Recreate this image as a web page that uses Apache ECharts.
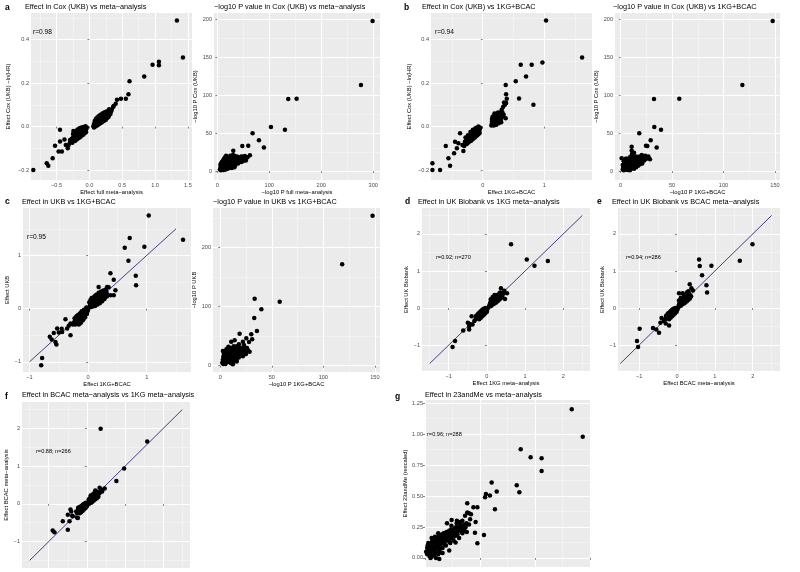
<!DOCTYPE html>
<html><head><meta charset="utf-8">
<script src="https://cdn.jsdelivr.net/npm/echarts@6/dist/echarts.min.js"></script>
<style>html,body{margin:0;padding:0;background:#fff}#c{width:800px;height:572px}</style>
</head><body><div id="c"></div>
<script>
// ---------------- data ----------------
const ptsA = [
 [0.06,0.002],[0.07,0.012],[0.08,0.004],[0.09,0.018],[0.1,0.01],[0.1,0.026],[0.11,0.02],[0.12,0.008],[0.12,0.032],[0.13,0.024],[0.14,0.016],[0.14,0.036],[0.15,0.028],[0.16,0.02],[0.16,0.04],[0.17,0.032],[0.18,0.024],[0.18,0.044],[0.19,0.036],[0.2,0.028],[0.2,0.048],[0.21,0.04],[0.22,0.032],[0.22,0.05],[0.23,0.044],[0.24,0.036],[0.25,0.052],[0.26,0.044],[0.27,0.056],[0.28,0.048],[0.29,0.06],[0.3,0.052],[0.31,0.064],[0.32,0.058],[0.33,0.07],
 [0.07,-0.004],[0.09,0.0],[0.11,0.004],[0.13,0.008],[0.15,0.012],[0.17,0.016],[0.19,0.02],[0.21,0.024],[0.23,0.028],[0.25,0.032],[0.27,0.04],[0.29,0.044],[0.08,0.026],[0.1,0.036],[0.12,0.042],[0.14,0.048],[0.16,0.052],[0.18,0.056],[0.2,0.06],[0.22,0.064],[0.24,0.066],[0.26,0.068],
 [0.34,0.077],[0.37,0.095],[0.40,0.105],[0.42,0.123],[0.48,0.128],[0.555,0.128],[0.595,0.149],[0.611,0.209],[0.835,0.231],[0.962,0.285],[1.059,0.298],[1.059,0.282],[1.333,0.488],[1.425,0.318],[0.265,0.069],[0.3,0.08],[0.36,0.09],
 [-0.04,-0.004],[-0.05,-0.012],[-0.06,-0.006],[-0.07,-0.016],[-0.08,-0.008],[-0.08,-0.022],[-0.09,-0.014],[-0.1,-0.024],[-0.1,-0.006],[-0.11,-0.018],[-0.12,-0.028],[-0.12,-0.012],[-0.13,-0.022],[-0.14,-0.032],[-0.14,-0.016],[-0.15,-0.026],[-0.16,-0.036],[-0.16,-0.02],[-0.17,-0.03],[-0.18,-0.04],[-0.19,-0.034],[-0.2,-0.044],[-0.21,-0.038],[-0.22,-0.05],[-0.23,-0.044],[-0.24,-0.056],[-0.25,-0.05],[-0.26,-0.062],[-0.27,-0.056],[-0.28,-0.07],[-0.3,-0.076],[-0.32,-0.086],[-0.2,-0.06],[-0.25,-0.034],[-0.244,-0.02],[-0.295,-0.062],
 [-0.05,-0.025],[-0.07,-0.03],[-0.09,-0.036],[-0.11,-0.04],[-0.13,-0.046],[-0.15,-0.05],[-0.17,-0.054],[-0.19,-0.058],[-0.06,0.002],[-0.09,-0.002],[-0.12,-0.004],[-0.15,-0.008],[-0.18,-0.014],[-0.21,-0.02],[-0.22,-0.066],[-0.26,-0.075],
 [-0.448,-0.015],[-0.524,-0.088],[-0.448,-0.069],[-0.42,-0.115],[-0.47,-0.115],[-0.36,-0.085],[-0.56,-0.146],[-0.65,-0.169],[-0.626,-0.18],[-0.855,-0.2],[-0.38,-0.06],[-0.33,-0.1]
];
const ptsA2 = [
 [298.7,197.4],[276.3,113.2],[136.5,94.7],[152.6,95.2],[103.2,57.9],[130.1,54.4],[67.9,49.6],[80.1,40.4],[89.7,31.1],[59.6,33.3],[48.1,32.9],[30.8,26.8],[62.8,20.6],[46.8,18.9],[43.6,12.3],
 [5,2],[6,4],[7,1],[8,3],[8,6],[9,2],[10,5],[10,8],[11,3],[12,1.5],[12,6],[13,10],[14,4],[14,8],[15,2.5],[16,6],[16,12],[17,9],[18,4],[18,14],[19,7],[20,11],[20,3],[21,16],[22,8],[23,13],[24,5],[25,10],[26,15],[27,7],[28,18],[29,12],[30,9],[31,14],[33,11],[34,17],[35,8],[36,13],[38,16],[40,10],[42,14],[44,17],[46,12],[48,16],[50,14],[52,18],[54,15],[56,17],[25,20],[30,21],[38,19],[33,5],[10,12],[15,15],[53,19.7],
 [6,8],[7,10],[9,12],[11,14],[13,16],[15,18],[17,20],[19,18],[21,13],[23,10],[25,7],[27,12],[29,15],[31,18],[33,20],[35,15],[37,11],[39,13],[41,18],[43,12],[45,15],[47,19],[49,13],[51,16],[55,14],[58,18],[20,6],[16,2],[22,4],[28,4],[12,4],[9,7]
];
const ptsB = [
 [1.028,0.488],[1.613,0.318],[0.969,0.295],[0.795,0.285],[0.617,0.285],[0.703,0.231],[0.536,0.209],[0.59,0.129],[0.823,0.1],[0.373,0.192],[0.379,0.149],[0.39,0.128],[0.346,0.111],[0.38,0.108],[0.373,0.038],[0.308,0.077],[0.33,0.09],[0.36,0.1],
 [0.14,0.005],[0.15,0.015],[0.16,0.025],[0.15,0.035],[0.17,0.01],[0.18,0.02],[0.18,0.035],[0.19,0.045],[0.2,0.015],[0.2,0.03],[0.21,0.04],[0.21,0.05],[0.22,0.02],[0.22,0.035],[0.23,0.045],[0.24,0.028],[0.24,0.055],[0.25,0.04],[0.26,0.03],[0.26,0.05],[0.27,0.06],[0.28,0.04],[0.29,0.05],[0.3,0.035],[0.3,0.06],[0.32,0.045],[0.32,0.065],[0.34,0.055],[0.19,0.06],[0.16,0.045],
 [0.15,0.025],[0.17,0.03],[0.17,0.045],[0.19,0.025],[0.21,0.025],[0.23,0.03],[0.25,0.025],[0.27,0.045],[0.29,0.065],[0.31,0.055],[0.28,0.055],[0.2,0.055],[0.23,0.06],[0.25,0.065],[0.18,0.005],[0.22,0.008],[0.26,0.015],[0.3,0.02],
 [-0.04,-0.005],[-0.05,-0.015],[-0.06,-0.008],[-0.07,-0.02],[-0.08,-0.01],[-0.09,-0.025],[-0.1,-0.015],[-0.11,-0.03],[-0.12,-0.02],[-0.13,-0.035],[-0.14,-0.025],[-0.15,-0.04],[-0.16,-0.03],[-0.17,-0.045],[-0.18,-0.035],[-0.19,-0.05],[-0.2,-0.04],[-0.21,-0.055],[-0.22,-0.045],[-0.23,-0.06],[-0.25,-0.055],[-0.27,-0.065],[-0.29,-0.07],[-0.12,-0.045],[-0.15,-0.055],[-0.2,-0.065],[-0.24,-0.075],[-0.08,-0.035],[-0.1,-0.005],[-0.06,-0.025],
 [-0.05,-0.03],[-0.07,-0.035],[-0.09,-0.04],[-0.11,-0.045],[-0.13,-0.05],[-0.17,-0.06],[-0.19,-0.065],[-0.22,-0.07],[-0.26,-0.08],[-0.07,0.0],[-0.12,-0.008],[-0.16,-0.015],[-0.2,-0.025],[-0.24,-0.04],[-0.28,-0.05],
 [-0.368,-0.031],[-0.6,-0.089],[-0.395,-0.077],[-0.42,-0.1],[-0.314,-0.112],[-0.465,-0.123],[-0.557,-0.146],[-0.53,-0.18],[-0.817,-0.169],[-0.817,-0.2],[-0.693,-0.2],[-0.33,-0.085],[-0.45,-0.07],[-0.3,-0.09]
];
const ptsB2 = [
 [147.8,197.4],[118.3,113.2],[32.4,94.7],[57,95.2],[32.7,57.9],[39.2,54.4],[18.1,49.6],[29.2,40.4],[35,31.1],[24.6,33.3],[25.9,32.9],[10.7,32],[10.7,26.8],[28.5,15.4],[22,18.9],[1,16.7],
 [2,2],[2.5,5],[3,8],[3,1],[3.5,11],[4,3],[4.5,6],[5,9],[5,13],[5.5,2],[6,5],[6,16],[6.5,8],[7,11],[7,1.5],[7.5,4],[8,14],[8,7],[8.5,10],[9,3],[9,18],[9.5,6],[10,12],[10,9],[10.5,15],[11,4],[11.5,20],[12,8],[12,13],[12.5,17],[13,6],[13.5,10],[14,15],[14.5,12],[15,19],[15.5,8],[16,14],[16.5,17],[17,11],[18,16],[18.5,19],[19,13],[20,17],[20.5,21],[21,15],[22,19],[23,17],[24,20],[26,18],[27,19],[11,22],[13,24],[4,15],
 [3,4],[4,6],[4,10],[5,5],[6,2],[6,12],[7,8],[8,4],[8,10],[9,13],[9,1],[10,3],[10,6],[11,8],[11,11],[12,5],[12,15],[13,12],[13,3],[14,9],[15,11],[15,5],[16,9],[17,13],[17,7],[18,11],[19,16],[19,9],[20,12],[21,10],[22,15],[23,14],[25,16],[2,8],[3,13],[5,16]
];
const ptsC = [
 [1.034,1.75],[1.619,1.294],[0.71,1.325],[0.625,1.144],[0.96,1.163],[0.688,0.9],[0.813,0.619],[0.818,0.438],[0.381,0.663],[0.4375,0.544],[0.381,0.25],[0.4375,0.25],[0.18,0.406],[0.324,0.406],[0.466,0.344],[0.35,0.4],[0.3,0.36],
 [0.03,0.06],[0.05,0.1],[0.06,0.05],[0.07,0.14],[0.08,0.09],[0.09,0.18],[0.1,0.12],[0.11,0.07],[0.12,0.16],[0.13,0.21],[0.14,0.11],[0.15,0.15],[0.16,0.2],[0.17,0.25],[0.18,0.14],[0.19,0.19],[0.2,0.23],[0.21,0.28],[0.22,0.17],[0.23,0.22],[0.24,0.26],[0.25,0.3],[0.26,0.2],[0.27,0.25],[0.28,0.29],[0.3,0.27],[0.31,0.32],[0.32,0.23],[0.04,0.16],[0.12,0.24],
 [0.05,0.03],[0.08,0.04],[0.12,0.05],[0.16,0.08],[0.2,0.1],[0.24,0.14],[0.28,0.18],[0.32,0.28],[0.02,0.12],[0.06,0.2],[0.1,0.22],[0.14,0.26],[0.18,0.3],[0.22,0.32],[0.26,0.34],[0.09,0.1],[0.13,0.12],[0.17,0.17],[0.21,0.2],[0.25,0.24],[0.29,0.22],
 [0,-0.01],[-0.01,-0.05],[-0.02,-0.02],[-0.03,-0.08],[-0.04,-0.04],[-0.05,-0.11],[-0.06,-0.06],[-0.07,-0.14],[-0.08,-0.09],[-0.09,-0.17],[-0.1,-0.12],[-0.11,-0.05],[-0.12,-0.2],[-0.13,-0.14],[-0.14,-0.09],[-0.15,-0.23],[-0.16,-0.17],[-0.17,-0.12],[-0.18,-0.26],[-0.19,-0.2],[-0.2,-0.15],[-0.21,-0.28],[-0.22,-0.22],[-0.24,-0.26],[-0.26,-0.3],[-0.08,-0.2],[-0.14,-0.28],
 [-0.02,-0.1],[-0.05,-0.16],[-0.09,-0.22],[-0.12,-0.26],[-0.16,-0.3],[-0.03,0.02],[-0.07,-0.02],[-0.11,-0.08],[-0.15,-0.11],[-0.19,-0.14],[-0.23,-0.18],[-0.06,-0.12],[-0.1,-0.16],[-0.14,-0.2],[-0.18,-0.22],[-0.22,-0.3],
 [-0.386,-0.2],[-0.3,-0.28],[-0.358,-0.375],[-0.3,-0.5],[-0.443,-0.4375],[-0.528,-0.375],[-0.585,-0.456],[-0.557,-0.625],[-0.54,-0.675],[-0.653,-0.53],[-0.62,-0.58],[-0.784,-0.925],[-0.8,-1.0625],[-0.5,-0.45],[-0.33,-0.32],[-0.45,-0.38]
];
const ptsC2 = [
 [147.8,254],[118.3,171.8],[33.4,113.6],[57.7,108.5],[39.9,95.5],[33,80.8],[35.6,58.8],[30.1,53.1],[18.8,54.2],[25.3,46.3],[22,40.7],[18.1,36.2],[10.7,40.7],[28.5,23.7],[25.3,23.7],[2.6,24.9],[12.3,2.3],[14,43],[31,45],[27.9,40],[20.4,27.7],
 [2,5],[2.5,10],[3,15],[3.5,20],[4,8],[4.5,13],[5,3],[5,18],[5.5,24],[6,10],[6.5,15],[7,6],[7,21],[7.5,12],[8,17],[8.5,27],[9,8],[9.5,14],[10,20],[10.5,4],[11,25],[11.5,11],[12,17],[12.5,30],[13,14],[13.5,22],[14,9],[14.5,19],[15,26],[15.5,12],[16,33],[16.5,22],[17,16],[18,28],[18.5,20],[19,24],[20,30],[21,18],[22,26],[23,35],[24,22],[26,30],[27,26],[16,7],[8,32],[6,28],
 [3,3],[4,12],[5,7],[6,20],[7,14],[8,9],[9,22],[10,12],[11,17],[12,6],[13,19],[14,27],[15,16],[16,10],[17,24],[18,14],[19,31],[20,21],[21,25],[22,16],[23,28],[24,31],[25,20],[4,25],[7,29],[10,30],[13,33],[12,22],[9,17],[5,11]
];
const ptsD = [
 [0.632,1.723],[1.044,1.3125],[1.246,1.143],[1.596,1.268],[0.368,0.536],[0.456,0.464],[0.526,0.402],[0.474,0.241],[0.42,0.38],[0.35,0.42],
 [0.06,0.06],[0.08,0.12],[0.1,0.08],[0.11,0.18],[0.12,0.1],[0.13,0.15],[0.14,0.22],[0.15,0.12],[0.16,0.18],[0.17,0.26],[0.18,0.14],[0.19,0.2],[0.2,0.28],[0.21,0.16],[0.22,0.23],[0.23,0.31],[0.24,0.19],[0.25,0.26],[0.26,0.34],[0.27,0.22],[0.28,0.29],[0.3,0.25],[0.31,0.33],[0.33,0.28],[0.35,0.36],[0.37,0.3],[0.39,0.4],[0.15,0.3],[0.1,0.24],
 [0.08,0.04],[0.12,0.06],[0.16,0.1],[0.2,0.12],[0.24,0.15],[0.28,0.18],[0.32,0.22],[0.36,0.26],[0.4,0.32],[0.1,0.16],[0.13,0.2],[0.17,0.22],[0.21,0.24],[0.25,0.3],[0.29,0.36],[0.33,0.4],[0.2,0.35],
 [0.02,-0.02],[0,-0.05],[-0.02,-0.01],[-0.03,-0.08],[-0.05,-0.04],[-0.06,-0.11],[-0.08,-0.07],[-0.09,-0.14],[-0.1,-0.03],[-0.11,-0.1],[-0.12,-0.17],[-0.13,-0.06],[-0.14,-0.13],[-0.15,-0.2],[-0.16,-0.09],[-0.17,-0.16],[-0.18,-0.23],[-0.19,-0.12],[-0.2,-0.19],[-0.21,-0.26],[-0.22,-0.15],[-0.24,-0.22],[-0.26,-0.28],[-0.28,-0.25],[-0.3,-0.31],
 [0,-0.1],[-0.04,-0.14],[-0.08,-0.18],[-0.12,-0.22],[-0.16,-0.26],[-0.2,-0.3],[-0.04,0.0],[-0.08,-0.02],[-0.12,-0.06],[-0.16,-0.1],[-0.2,-0.14],[-0.24,-0.17],[-0.28,-0.21],
 [-0.4,-0.22],[-0.377,-0.446],[-0.465,-0.49],[-0.465,-0.58],[-0.62,-0.61],[-0.833,-0.89],[-0.9,-1.05],[-0.33,-0.35],[-0.45,-0.43],[-0.5,-0.4]
];
const ptsE = [
 [1.993,1.723],[1.658,1.277],[0.582,1.3125],[0.6,1.134],[0.908,1.143],[0.661,0.884],[0.776,0.616],[0.794,0.42],[0.335,0.643],[0.38,0.536],[0.053,0.402],[0.265,0.429],[0.15,0.4],[0.42,0.47],[0.3,0.45],
 [0.04,0.06],[0.06,0.12],[0.08,0.08],[0.09,0.18],[0.1,0.1],[0.11,0.15],[0.12,0.22],[0.13,0.12],[0.14,0.18],[0.15,0.26],[0.16,0.14],[0.17,0.2],[0.18,0.28],[0.19,0.16],[0.2,0.23],[0.21,0.31],[0.22,0.19],[0.23,0.26],[0.24,0.34],[0.25,0.22],[0.26,0.29],[0.28,0.25],[0.29,0.33],[0.31,0.28],[0.33,0.36],[0.35,0.3],[0.1,0.28],[0.05,0.2],
 [0.06,0.04],[0.1,0.06],[0.14,0.1],[0.18,0.12],[0.22,0.15],[0.26,0.18],[0.3,0.22],[0.34,0.26],[0.37,0.32],[0.08,0.16],[0.11,0.2],[0.15,0.22],[0.19,0.24],[0.23,0.3],[0.27,0.36],[0.31,0.4],[0.18,0.35],
 [0.02,-0.02],[0,-0.05],[-0.02,-0.01],[-0.04,-0.08],[-0.05,-0.04],[-0.07,-0.11],[-0.08,-0.07],[-0.1,-0.14],[-0.11,-0.03],[-0.12,-0.1],[-0.13,-0.17],[-0.14,-0.06],[-0.15,-0.13],[-0.16,-0.2],[-0.17,-0.09],[-0.18,-0.16],[-0.19,-0.23],[-0.2,-0.12],[-0.21,-0.19],[-0.22,-0.26],[-0.24,-0.15],[-0.25,-0.22],[-0.27,-0.28],[-0.29,-0.25],[-0.32,-0.31],
 [-0.01,-0.1],[-0.05,-0.14],[-0.09,-0.18],[-0.13,-0.22],[-0.17,-0.26],[-0.21,-0.3],[-0.05,0.0],[-0.09,-0.02],[-0.13,-0.06],[-0.17,-0.1],[-0.21,-0.14],[-0.25,-0.17],[-0.29,-0.21],
 [-0.21,-0.47],[-0.44,-0.4],[-0.547,-0.58],[-0.476,-0.67],[-0.635,-0.536],[-0.988,-0.5625],[-1.058,-0.893],[-1.03,-1.054],[-0.41,-0.27],[-0.35,-0.35],[-0.3,-0.42]
];
const ptsF = [
 [0.36,1.99],[1.579,1.652],[0.974,0.9375],[0.772,0.607],[0.465,0.41],[0.377,0.384],[0.333,0.429],[0.22,0.357],[0.4,0.33],
 [0.03,0.02],[0.05,0.07],[0.06,0.03],[0.07,0.11],[0.08,0.05],[0.09,0.14],[0.1,0.08],[0.11,0.18],[0.12,0.1],[0.13,0.04],[0.14,0.14],[0.15,0.21],[0.16,0.11],[0.17,0.17],[0.18,0.24],[0.19,0.13],[0.2,0.2],[0.21,0.27],[0.22,0.16],[0.23,0.23],[0.24,0.3],[0.26,0.2],[0.27,0.27],[0.29,0.24],[0.31,0.31],[0.33,0.28],[0.1,0.22],
 [0.06,0.0],[0.1,0.03],[0.14,0.06],[0.18,0.09],[0.22,0.12],[0.26,0.15],[0.3,0.19],[0.05,0.12],[0.09,0.17],[0.13,0.22],[0.17,0.27],[0.21,0.31],[0.25,0.33],
 [0,0.02],[-0.01,-0.03],[-0.02,0.0],[-0.04,-0.05],[-0.05,-0.01],[-0.06,-0.08],[-0.08,-0.04],[-0.09,-0.11],[-0.1,-0.02],[-0.11,-0.07],[-0.12,-0.14],[-0.13,-0.05],[-0.14,-0.1],[-0.15,-0.17],[-0.16,-0.08],[-0.17,-0.13],[-0.18,-0.2],[-0.19,-0.11],[-0.2,-0.16],[-0.21,-0.23],[-0.23,-0.14],[-0.24,-0.2],[-0.26,-0.24],[-0.28,-0.2],
 [0,-0.06],[-0.03,-0.1],[-0.07,-0.14],[-0.11,-0.18],[-0.15,-0.22],[-0.19,-0.25],[-0.03,0.03],[-0.07,0.0],[-0.11,-0.03],[-0.15,-0.06],[-0.19,-0.08],[-0.23,-0.1],
 [-0.43,-0.15],[-0.237,-0.375],[-0.386,-0.3125],[-0.5,-0.286],[-0.456,-0.464],[-0.632,-0.464],[-0.5,-0.6875],[-0.895,-0.705],[-0.85,-0.75],[-0.37,-0.33],[-0.26,-0.36],[-0.41,-0.2]
];
const ptsG = [
 [0.01,0.03],[0.015,0.06],[0.02,0.015],[0.02,0.09],[0.025,0.045],[0.03,0.075],[0.03,0.11],[0.035,0.03],[0.04,0.06],[0.04,0.13],[0.045,0.095],[0.05,0.04],[0.05,0.15],[0.055,0.08],[0.06,0.115],[0.06,0.17],[0.065,0.06],[0.07,0.1],[0.07,0.14],[0.075,0.19],[0.08,0.08],[0.085,0.125],[0.09,0.16],[0.09,0.2],[0.095,0.1],[0.1,0.14],[0.105,0.18],[0.11,0.22],[0.115,0.12],[0.12,0.16],[0.125,0.2],[0.13,0.14],[0.135,0.24],[0.14,0.18],[0.15,0.22],[0.155,0.16],[0.16,0.26],[0.17,0.2],[0.18,0.24],[0.19,0.21],[0.2,0.27],[0.025,0.0],[0.05,0.0],[0.015,0.12],[0.03,0.16],[0.08,0.04],[0.11,0.06],
 [0.005,0.05],[0.01,0.08],[0.012,0.1],[0.018,0.035],[0.022,0.07],[0.028,0.1],[0.032,0.13],[0.036,0.055],[0.038,0.09],[0.042,0.11],[0.046,0.14],[0.048,0.075],[0.052,0.1],[0.055,0.13],[0.058,0.16],[0.062,0.09],[0.066,0.125],[0.068,0.155],[0.072,0.18],[0.075,0.12],[0.078,0.15],[0.082,0.17],[0.085,0.2],[0.088,0.14],[0.092,0.18],[0.098,0.21],[0.1,0.17],[0.104,0.2],[0.108,0.15],[0.112,0.19],[0.118,0.23],[0.12,0.2],[0.125,0.17],[0.13,0.22],[0.138,0.2],[0.142,0.25],[0.148,0.19],[0.15,0.24],[0.16,0.22],[0.165,0.25],[0.172,0.23],[0.178,0.27],[0.185,0.25],[0.02,0.05],[0.035,0.08],[0.04,0.02],[0.06,0.07],[0.075,0.08],[0.09,0.11],[0.11,0.13],[0.13,0.17],[0.145,0.3],[0.16,0.29],[0.12,0.26],[0.045,0.17],[0.06,0.2],[0.03,0.01],[0.06,0.03],
 [0.667,1.199],[0.717,0.978],[0.435,0.876],[0.48,0.812],[0.53,0.804],[0.53,0.702],[0.303,0.608],[0.417,0.586],[0.429,0.53],[0.326,0.535],[0.277,0.516],[0.295,0.503],[0.273,0.489],[0.318,0.392],[0.192,0.441],[0.22,0.409],[0.238,0.409],[0.192,0.366],[0.2,0.36],[0.209,0.352],[0.182,0.341],[0.205,0.312],[0.23,0.29],[0.189,0.28],[0.177,0.22],[0.227,0.204],[0.268,0.185],[0.238,0.118],[0.139,0.124],[0.121,0.306],[0.144,0.28],[0.159,0.285],[0.152,0.239],[0.129,0.226],[0.068,0.043],[0.065,-0.008],[0.1,0.28],[0.17,0.3]
];
// identity reference lines
const lineC = [[-1,-1],[1.5,1.5]];
const lineDEF = [[-1.5,-1.5],[2.5,2.5]];
// tick labels
const ticksEffA_x = [-0.5,0,0.5,1,1.5];
const ticksEffB_x = [0,1];
const ticksCox_y = [-0.2,0,0.2,0.4];
const ticksLogA_x = [0,100,200,300];
const ticksLog150_x = [0,50,100,150];
const ticksLogCox_y = [0,50,100,150,200];
const ticksLogUKB_y = [0,100,200];
const ticksC = [-1,0,1];
const ticksDEF = [-1,0,1,2];
const ticksG_x = [0,0.25,0.5,0.75];
const ticksG_y = [0,0.25,0.5,0.75,1,1.25];
const rTexts = ['r=0.98','r=0.94','r=0.95','r=0.92; n=270','r=0.94; n=286','r=0.88; n=266','r=0.96; n=288'];

// ---------------- layout / styling ----------------
const FONT = '"Liberation Sans", Arial, Helvetica, sans-serif';
const M = '\u2212';
function minorOf(t, lo, hi){
  const step = t.length > 1 ? t[1]-t[0] : 1; const out = [];
  for (let v = t[0]-step/2; v > lo; v -= step) out.push(v);
  for (let i=0;i<t.length;i++){ const v = t[i]+step/2; if (v < hi) out.push(v); }
  return out.filter(v => v > lo && v < hi);
}
function fmt(dec){ return v => { let s = Math.abs(v).toFixed(dec); return (v < -1e-9 ? M : '') + s; }; }

const panels = [
 {d:ptsA, g:[31,13,161,167], x:[-0.89,1.563], y:[-0.246,0.523], xt:ticksEffA_x, yt:ticksCox_y, xd:1, yd:1,
  xn:'Effect full meta'+M+'analysis', yn:'Effect Cox (UKB) '+M+'ln(HR)', xg:6, yg:19.5},
 {d:ptsA2, g:[214,13,166,167], x:[-6.3,313], y:[-11.8,207.9], xt:ticksLogA_x, yt:ticksLogCox_y, xd:0, yd:0,
  xn:M+'log10 P full meta'+M+'analysis', yn:M+'log10 P Cox (UKB)', xg:6, yg:12.5},
 {d:ptsB, g:[431,13,161,167], x:[-0.84,1.774], y:[-0.246,0.523], xt:ticksEffB_x, yt:ticksCox_y, xd:0, yd:1,
  xn:'Effect 1KG+BCAC', yn:'Effect Cox (UKB) '+M+'ln(HR)', xg:6, yg:19},
 {d:ptsB2, g:[615,13,165,167], x:[-5.5,154.9], y:[-11.8,207.9], xt:ticksLog150_x, yt:ticksLogCox_y, xd:0, yd:0,
  xn:M+'log10 P 1KG+BCAC', yn:M+'log10 P Cox (UKB)', xg:6, yg:12.5},
 {d:ptsC, g:[23,208,168,164], x:[-1.11,1.755], y:[-1.19,1.89], xt:ticksC, yt:ticksC, xd:0, yd:0,
  xn:'Effect 1KG+BCAC', yn:'Effect UKB', xg:7.5, yg:9.5, line:lineC},
 {d:ptsC2, g:[213,208,167,164], x:[-7,155], y:[-10.7,267.3], xt:ticksLog150_x, yt:ticksLogUKB_y, xd:0, yd:0,
  xn:M+'log10 P 1KG+BCAC', yn:M+'log10 P UKB', xg:7.5, yg:12.5},
 {d:ptsD, g:[422,208,168,163], x:[-1.7,2.7], y:[-1.7,2.7], xt:ticksDEF, yt:ticksDEF, xd:0, yd:0,
  xn:'Effect 1KG meta'+M+'analysis', yn:'Effect UK Biobank', xg:8, yg:11, line:lineDEF},
 {d:ptsE, g:[618,208,162,163], x:[-1.56,2.72], y:[-1.7,2.7], xt:ticksDEF, yt:ticksDEF, xd:0, yd:0,
  xn:'Effect BCAC meta'+M+'analysis', yn:'Effect UK Biobank', xg:8, yg:12, line:lineDEF},
 {d:ptsF, g:[22,402,168,166], x:[-1.7,2.7], y:[-1.7,2.7], xt:ticksDEF, yt:ticksDEF, xd:0, yd:0,
  xn:'', yn:'Effect BCAC meta'+M+'analysis', xg:8, yg:8.5, line:lineDEF, noXLab:true},
 {d:ptsG, g:[425,400,165,167], x:[0,0.75], y:[-0.073,1.274], xt:ticksG_x, yt:ticksG_y, xd:2, yd:2,
  xn:'', yn:'Effect 23andMe (rescaled)', xg:8, yg:15, noXLab:true}
];

const grids=[], xAxes=[], yAxes=[], series=[];
panels.forEach((p,i)=>{
  grids.push({left:p.g[0], top:p.g[1], width:p.g[2], height:p.g[3], show:true, backgroundColor:'#EBEBEB', borderWidth:0, containLabel:false, outerBoundsMode:'none'});
  const mk = (isX)=>{
    const r = isX ? p.x : p.y, t = isX ? p.xt : p.yt, dec = isX ? p.xd : p.yd;
    const main = {gridIndex:i, type:'value', min:r[0], max:r[1], position: isX?'bottom':'left',
      axisLine:{show:false},
      axisTick:{show:true, length:2, customValues:t, lineStyle:{color:'#333', width:0.6}},
      axisLabel:{show:!(isX && p.noXLab), customValues:t, fontSize:5.6, color:'#4d4d4d', margin:2, fontFamily:FONT, formatter:fmt(dec)},
      splitLine:{show:true, lineStyle:{color:'#fff', width:1}},
      name: isX ? p.xn : p.yn, nameLocation:'middle', nameGap: isX ? p.xg : p.yg,
      nameTextStyle:{fontSize:5.8, color:'#000', fontFamily:FONT}};
    const minor = {gridIndex:i, type:'value', min:r[0], max:r[1], position: isX?'top':'right',
      axisLine:{show:false}, axisTick:{show:false, customValues:minorOf(t, r[0], r[1])},
      axisLabel:{show:false, customValues:minorOf(t, r[0], r[1])},
      splitLine:{show:true, lineStyle:{color:'#F7F7F7', width:0.6}}};
    return [minor, main];
  };
  const xs = mk(true), ys = mk(false);
  xAxes.push(xs[0], xs[1]); yAxes.push(ys[0], ys[1]);
  if (p.line) series.push({type:'line', xAxisIndex:2*i+1, yAxisIndex:2*i+1, data:p.line, showSymbol:false, silent:true, z:2,
    lineStyle:{color:'#483D8B', width:1}});
  series.push({type:'scatter', xAxisIndex:2*i+1, yAxisIndex:2*i+1, data:p.d, symbolSize:4.5, silent:true, z:3,
    itemStyle:{color:'#000', opacity:1}});
});

function txt(x,y,s,size,bold){ return {type:'text', x:x, y:y, z:100, silent:true,
  style:{text:s, fill:'#000', fontSize:size, fontFamily:FONT, fontWeight: bold?'bold':'normal', align:'left', verticalAlign:'middle'}}; }
const letters = [['a',5,8],['b',404,8],['c',5,202],['d',405,202],['e',597,202],['f',5,397],['g',395,397]];
const titles = [
 ['Effect in Cox (UKB) vs meta'+M+'analysis',25,7],
 [M+'log10 P value in Cox (UKB) vs meta'+M+'analysis',214,7],
 ['Effect in Cox (UKB) vs 1KG+BCAC',422,7],
 [M+'log10 P value in Cox (UKB) vs 1KG+BCAC',613,7],
 ['Effect in UKB vs 1KG+BCAC',22,202],
 [M+'log10 P value in UKB vs 1KG+BCAC',213,202],
 ['Effect in UK Biobank vs 1KG meta'+M+'analysis',418,202],
 ['Effect in UK Biobank vs BCAC meta'+M+'analysis',612,202],
 ['Effect in BCAC meta'+M+'analysis vs 1KG meta'+M+'analysis',22,395],
 ['Effect in 23andMe vs meta'+M+'analysis',425,395]
];
const rPos = [[33,32,6.6],[435,32,6.6],[27,237,6.6],[436,257,5.6],[626,257,5.6],[36,451,5.6],[427,434,5.6]];
const graphic = [];
letters.forEach(l=>graphic.push(txt(l[1],l[2],l[0],8.5,true)));
titles.forEach(t=>graphic.push(txt(t[1],t[2],t[0],7.3,false)));
rTexts.forEach((s,i)=>graphic.push(txt(rPos[i][0],rPos[i][1],s,rPos[i][2],false)));

const chart = echarts.init(document.getElementById('c'), null, {renderer:'canvas'});
chart.setOption({animation:false, backgroundColor:'#fff', textStyle:{fontFamily:FONT},
  grid:grids, xAxis:xAxes, yAxis:yAxes, series:series, graphic:graphic});
</script></body></html>
